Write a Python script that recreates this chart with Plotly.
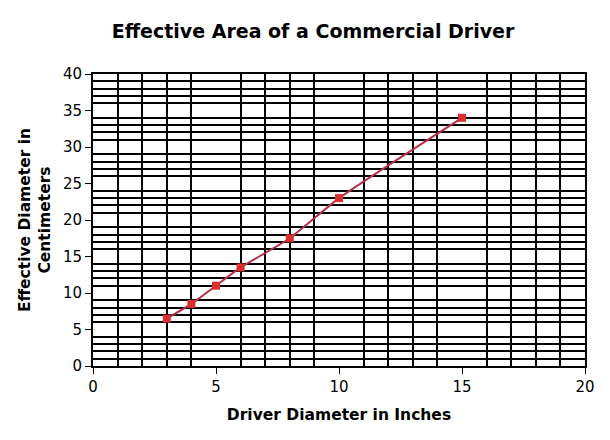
import plotly.graph_objects as go

driver_inches = [3, 4, 5, 6, 8, 10, 15]
effective_cm = [6.5, 8.5, 11, 13.5, 17.5, 23, 34]

fig = go.Figure()
fig.add_trace(go.Scatter(
    x=driver_inches, y=effective_cm, mode="lines+markers",
    line=dict(color="#b3304a", width=2, shape="spline", smoothing=0.5),
    marker=dict(symbol="square", size=8, color="#d9302e"),
    showlegend=False,
))

font_family = "DejaVu Sans, Verdana, sans-serif"
fig.update_layout(
    width=610, height=440,
    margin=dict(l=85, r=33, t=66, b=82),
    paper_bgcolor="white", plot_bgcolor="white",
    title=dict(text="<b>Effective Area of a Commercial Driver</b>",
               x=0.5, xanchor="center", y=0.948, yanchor="middle",
               font=dict(family=font_family, size=19, color="black")),
    font=dict(family=font_family, color="black"),
)
fig.update_xaxes(
    range=[0, 20], tick0=0, dtick=5, ticks="outside", ticklen=6, tickcolor="black",
    showgrid=False, zeroline=False, showline=True, linecolor="black", linewidth=2, mirror=True,
    tickfont=dict(size=15),
    minor=dict(dtick=1, showgrid=True, gridcolor="black", gridwidth=2),
    title=dict(text="<b>Driver Diameter in Inches</b>", font=dict(size=15.5), standoff=14),
)
fig.update_yaxes(
    range=[0, 40], tick0=0, dtick=5, ticks="outside", ticklen=6, tickcolor="black",
    showgrid=False, zeroline=False, showline=True, linecolor="black", linewidth=2, mirror=True,
    tickfont=dict(size=15),
    minor=dict(dtick=1, showgrid=True, gridcolor="black", gridwidth=2),
    title=dict(text="<b>Effective Diameter in<br>Centimeters</b>", font=dict(size=15.5), standoff=8),
)
fig.write_html("out.html")
